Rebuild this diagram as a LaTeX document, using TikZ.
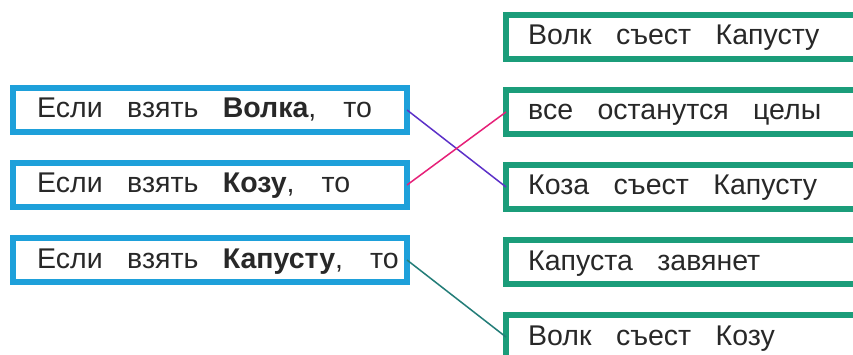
\documentclass[tikz,border=0pt]{standalone}
\usepackage{fontspec}
\setmainfont{Liberation Sans}
\definecolor{lblue}{RGB}{30,160,218}
\definecolor{rgreen}{RGB}{27,157,122}
\definecolor{violetl}{RGB}{92,48,200}
\definecolor{pinkl}{RGB}{230,32,120}
\definecolor{teall}{RGB}{35,125,120}
\definecolor{txtc}{RGB}{40,40,40}
\newcommand\wg{\hspace{24.5pt}}
\newcommand\cg{\hspace{27pt}}
\begin{document}
\begin{tikzpicture}[x=1pt,y=-1pt,
  lbox/.style={draw=lblue,line width=6pt,fill=white,outer sep=0pt,inner sep=0pt,minimum width=394pt,minimum height=44pt},
  rbox/.style={draw=rgreen,line width=6pt,fill=white,outer sep=0pt,inner sep=0pt,minimum width=494pt,minimum height=44pt},
  txt/.style={anchor=base west,inner sep=0pt,font=\fontsize{28.5}{31}\selectfont,text=txtc},
  conn/.style={line width=1.5pt}]
\useasboundingbox (0,0) rectangle (853,355);
\clip (0,0) rectangle (853,355);
\fill[white] (0,0) rectangle (853,355);
% left boxes
\node[lbox] (L1) at (210,110) {};
\node[lbox] (L2) at (210,185) {};
\node[lbox] (L3) at (210,260) {};
% right boxes
\node[rbox] (R1) at (753,37) {};
\node[rbox] (R2) at (753,112) {};
\node[rbox] (R3) at (753,187) {};
\node[rbox] (R4) at (753,262) {};
\node[rbox] (R5) at (753,337) {};
% texts
\node[txt] (T1) at ([xshift=24pt,yshift=-8pt]L1.west) {Если\wg взять\wg \textbf{Волка},\cg то};
\node[txt] (T2) at ([xshift=24pt,yshift=-8pt]L2.west) {Если\wg взять\wg \textbf{Козу},\cg то};
\node[txt] (T3) at ([xshift=24pt,yshift=-8pt]L3.west) {Если\wg взять\wg \textbf{Капусту},\cg то};
\node[txt] (S1) at ([xshift=22pt,yshift=-8pt]R1.west) {Волк\wg съест\wg Капусту};
\node[txt] (S2) at ([xshift=22pt,yshift=-8pt]R2.west) {все\wg останутся\wg целы};
\node[txt] (S3) at ([xshift=22pt,yshift=-8pt]R3.west) {Коза\wg съест\wg Капусту};
\node[txt] (S4) at ([xshift=22pt,yshift=-8pt]R4.west) {Капуста\wg завянет};
\node[txt] (S5) at ([xshift=22pt,yshift=-8pt]R5.west) {Волк\wg съест\wg Козу};
% connectors
\draw[conn,violetl] (L1.east) -- (R3.west);
\draw[conn,pinkl] (L2.east) -- (R2.west);
\draw[conn,teall] (L3.east) -- (R5.west);
\end{tikzpicture}
\end{document}
